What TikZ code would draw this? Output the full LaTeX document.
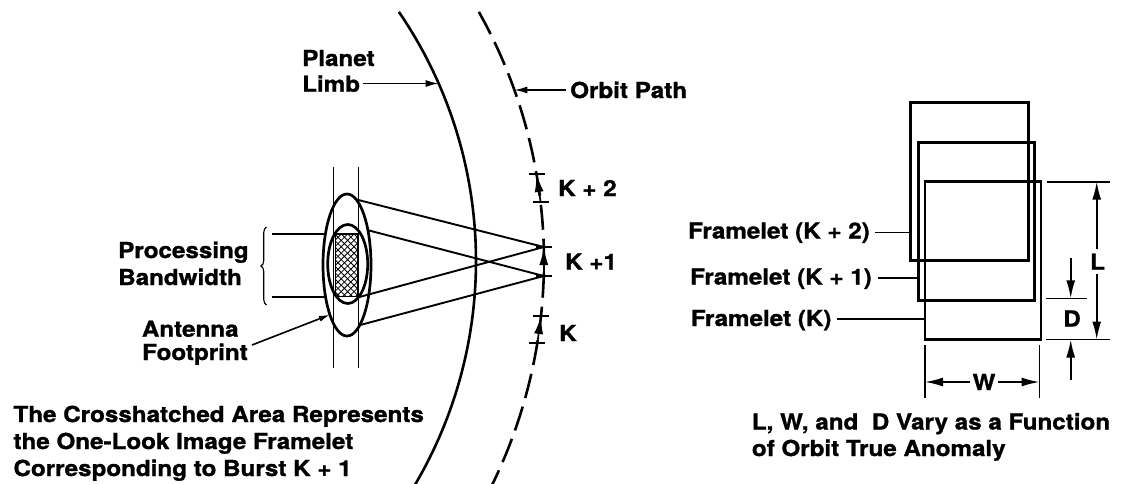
\documentclass[tikz,border=0pt]{standalone}
\usepackage{fontspec}
\setmainfont{TeX Gyre Heros}[FakeStretch=1.1, BoldFeatures={FakeBold=1.2}]
\usetikzlibrary{arrows.meta,decorations.pathreplacing,calc,shapes.geometric}
\begin{document}
\begin{tikzpicture}[x=1pt,y=1pt,
  lbl/.style={font=\fontsize{22}{26}\selectfont\bfseries, inner sep=0pt, anchor=base west},
  limbline/.style={line width=2.6pt},
  orbitline/.style={line width=2.6pt, dash pattern=on 25pt off 9pt},
  ptr/.style={line width=1.6pt, -{Latex[length=13pt,width=7pt]}},
  ray/.style={line width=1.9pt},
  vline/.style={line width=1.5pt},
  tickmark/.style={line width=1.5pt},
  dimarrow/.style={line width=1.7pt, -{Latex[length=18pt,width=9pt]}},
  framebox/.style={draw, line width=2.8pt, inner sep=0pt, outer sep=0pt},
  fpell/.style={draw, ellipse, line width=2.7pt, inner sep=0pt, outer sep=0pt},
  leader/.style={line width=1.6pt},
  extline/.style={line width=1.6pt},
  hatch/.style={line width=0.8pt},
  dimlbl/.style={font=\fontsize{22}{26}\selectfont\bfseries, inner sep=4pt}
]
\useasboundingbox (0,0) rectangle (1126,-483);

% ---------- planet limb and orbit path ----------
\coordinate (C) at (35,-261);
\begin{scope}
  \clip (0,0) rectangle (1126,-483);
  \draw[limbline] (C) ++(34.4:441) arc[start angle=34.4, end angle=-30.8, radius=441];
  \draw[orbitline] (C) ++(29.3:509) arc[start angle=29.3, end angle=-26.4, radius=509];
\end{scope}

\coordinate (limbpt) at (438.7,-83.5);
\coordinate (orbpt) at (514.4,-90);

\node[lbl] (planet) at (302,-66) {Planet};
\node[lbl] (limb) at (302,-91.7) {Limb};
\draw[ptr] ($(limb.base east)+(3,8.2)$) -- (limbpt);

\node[lbl] (orbit) at (570,-98) {Orbit Path};
\draw[ptr] ($(orbit.base west)+(-4,8)$) -- (orbpt);

% ---------- ticks on orbit ----------
\coordinate (t1) at (536.5,-174);
\coordinate (t2) at (540.6,-202);
\coordinate (t3) at (543.8,-247);
\coordinate (t4) at (543.8,-276);
\coordinate (t5) at (541,-316);
\coordinate (t6) at (537.4,-343);
\foreach \n in {t1,t2,t3,t4,t5,t6}{
  \draw[tickmark] ($(\n)+(-8,0)$) -- ($(\n)+(8,0)$);
}
\draw[dimarrow] (t2) -- (t1);
\draw[dimarrow] (t4) -- (t3);
\draw[dimarrow] (t6) -- (t5);

\node[lbl, anchor=west] (k2) at (558,-188) {K + 2};
\node[lbl, anchor=west] (k1) at (565,-261.5) {K +1};
\node[lbl, anchor=west] (k0) at (559,-333) {K};

% ---------- footprint ----------
\draw[vline] (333.3,-166.7) -- (333.3,-368.3);
\draw[vline] (358.3,-166.7) -- (358.3,-368.3);

\begin{scope}
  \clip (335.5,-234) rectangle (358,-296.5);
  \foreach \i in {0,...,30}{
    \draw[hatch] ({258+\i*6.4},-234) -- ++(63,-63);
    \draw[hatch] ({258+\i*6.4},-234) -- ++(-63,-63);
  }
\end{scope}
\draw[line width=1.6pt] (335.5,-234) rectangle (358,-296.5);

\node[fpell, minimum width=48pt, minimum height=142pt] (outer) at (347,-265) {};
\node[fpell, minimum width=40pt, minimum height=79pt] (inner) at (347.7,-264) {};

\draw[ray] (outer.82.1) -- (t3);
\draw[ray] (outer.59.5) -- (t4);
\draw[ray] (inner.-72.4) -- (t3);
\draw[ray] (outer.-78.3) -- (t4);

% processing bandwidth
\coordinate (pbtop) at (271.7,-234);
\coordinate (pbbot) at (271.7,-296.7);
\draw[leader] (pbtop) -- (325.4,-234);
\draw[leader] (pbbot) -- (325.5,-296.7);
\draw[line width=1.1pt, decorate, decoration={brace, amplitude=5.5pt}] (266.5,-305) -- (266.5,-227);

\node[lbl] (proc) at (118,-258) {Processing};
\node[lbl] (band) at (118,-285) {Bandwidth};

\node[lbl] (ant) at (141.7,-336.7) {Antenna};
\node[lbl] (foot) at (142,-360) {Footprint};
\draw[line width=1.6pt, -{Latex[length=11pt,width=6pt]}] ($(foot.base east)+(4,15)$) -- (outer.-109.4);

\node[lbl] (c1) at (13.3,-422) {The Crosshatched Area Represents};
\node[lbl] (c2) at (13.3,-449) {the One-Look Image Framelet};
\node[lbl] (c3) at (13.3,-476) {Corresponding to Burst K + 1};

% ---------- framelets ----------
\node[framebox, minimum width=117.6pt, minimum height=158.4pt] (f2) at (969.5,-181.5) {};
\node[framebox, minimum width=116pt, minimum height=158.4pt] (f1) at (976.3,-221.5) {};
\node[framebox, minimum width=116pt, minimum height=157.8pt] (f0) at (983,-260.6) {};

\node[lbl] (fl2) at (688,-238.5) {Framelet (K + 2)};
\node[lbl] (fl1) at (690,-284.5) {Framelet (K + 1)};
\node[lbl] (fl0) at (690.7,-326) {Framelet (K)};
\coordinate (l2s) at (875,-232.5);
\coordinate (l1s) at (878,-278);
\coordinate (l0s) at (836.7,-319);
\draw[leader] (l2s) -- (l2s -| f2.west);
\draw[leader] (l1s) -- (l1s -| f1.west);
\draw[leader] (l0s) -- (l0s -| f0.west);

% L dimension
\draw[extline] (1046.7,-181.7) -- (1110,-181.7);
\draw[extline] (1046,-339.5) -- (1110,-339.5);
\coordinate (Ltop) at (1096.7,-181.7);
\coordinate (Lbot) at (1096.7,-339.5);
\node[dimlbl] (Llbl) at (1097.5,-261.7) {L};
\draw[dimarrow] (Llbl.north -| Ltop) -- (Ltop);
\draw[dimarrow] (Llbl.south -| Lbot) -- (Lbot);

% D dimension
\draw[extline] (1045.7,-298.3) -- (1086.7,-298.3);
\coordinate (Dtop) at (1070.7,-298.3);
\coordinate (Dbot) at (1070.7,-339.5);
\coordinate (Dtopfree) at (1070.7,-258.3);
\coordinate (Dbotfree) at (1070.7,-380);
\draw[dimarrow] (Dtopfree) -- (Dtop);
\draw[dimarrow] (Dbotfree) -- (Dbot);
\node[dimlbl] (Dlbl) at (1072,-318.5) {D};

% W dimension
\draw[extline] (925,-345) -- (925,-398);
\draw[extline] (1039.5,-345) -- (1039.5,-398);
\coordinate (Wl) at (925,-382);
\coordinate (Wr) at (1039.5,-382);
\node[dimlbl, inner sep=2pt] (Wlbl) at (984,-382) {W};
\draw[dimarrow] (Wlbl.west) -- (Wl);
\draw[dimarrow] (Wlbl.east) -- (Wr);

\node[lbl] (v1) at (751.7,-429.5) {L, W, and\ \ D Vary as a Function};
\node[lbl] (v2) at (751.7,-456) {of Orbit True Anomaly};
\end{tikzpicture}
\end{document}
